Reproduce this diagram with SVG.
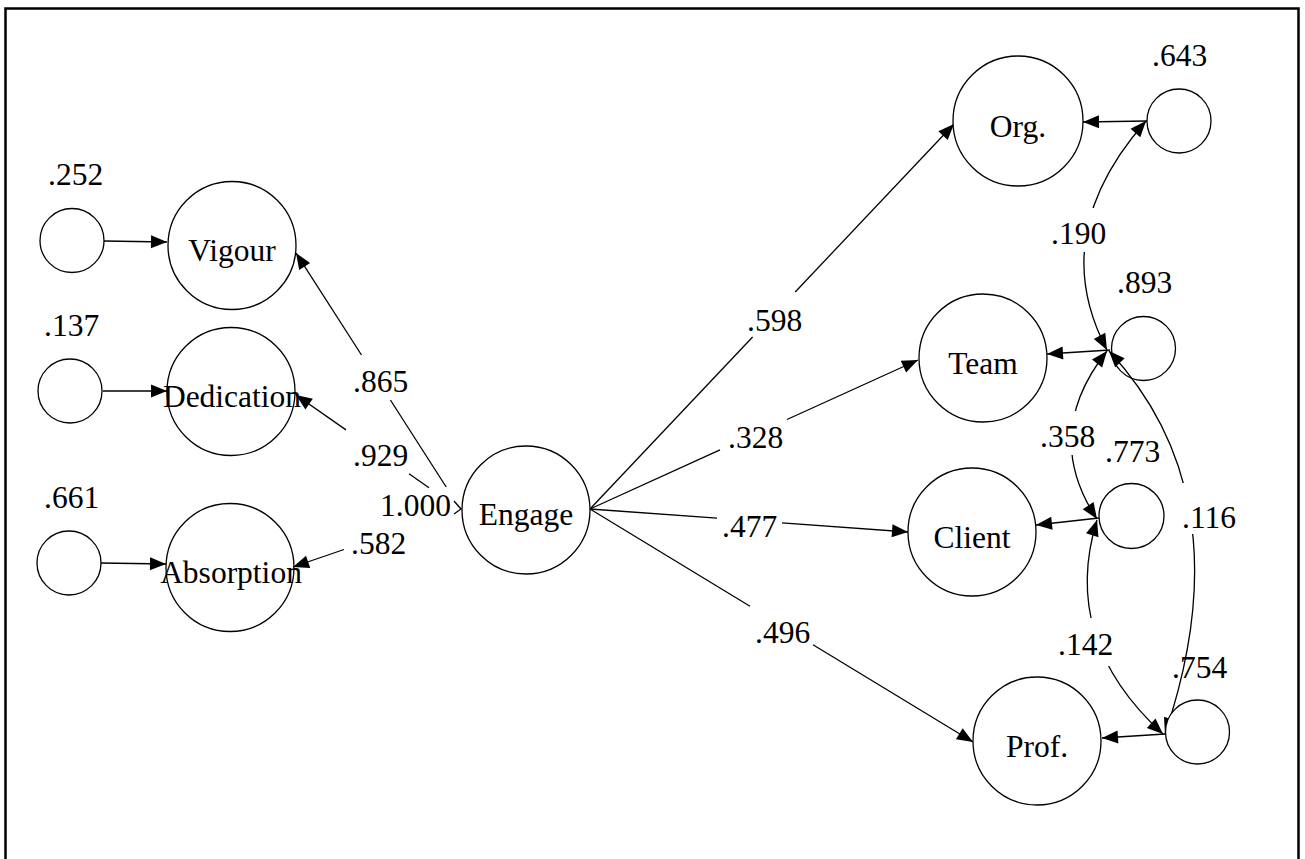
<svg xmlns="http://www.w3.org/2000/svg" width="1305" height="859" viewBox="0 0 1305 859">
<defs>
<marker id="ah" markerUnits="userSpaceOnUse" markerWidth="17" markerHeight="14" refX="16" refY="6.5" orient="auto-start-reverse" overflow="visible">
<path d="M0,0 L16,6.5 L0,13 z" fill="#000"/>
</marker>
<style>
.n{fill:#fff;stroke:#000;stroke-width:1.3}
.t{font-family:"Liberation Serif","Times New Roman",serif;font-size:31.5px;fill:#000}
.m{text-anchor:middle}
.c{fill:none;stroke:#000;stroke-width:1.3}
.a{marker-end:url(#ah)}
.b{marker-start:url(#ah);marker-end:url(#ah)}
.bg{fill:#fff;stroke:none}
</style>
</defs>
<rect width="1305" height="859" fill="#fff"/>
<rect x="5.5" y="8.5" width="1293" height="900" fill="none" stroke="#000" stroke-width="2.5"/>

<g id="connectors">
<path class="c a" d="M104,241 L167,242"/>
<path class="c a" d="M103,391 L167,391"/>
<path class="c a" d="M101,563 L166,564"/>
<path class="c" d="M446.2,487 L390.4,400"/>
<path class="c a" d="M361.5,355 L296,253"/>
<path class="c" d="M429,487.7 L409,473.8"/>
<path class="c a" d="M346,429.9 L296,395"/>
<path class="c a" d="M344,549.5 L293,567"/>
<path class="c" d="M454,501 L461,509 L454,514"/>
<path class="c" d="M590,509 L752.6,337"/>
<path class="c a" d="M795.2,292 L954,124"/>
<path class="c" d="M590,509 L720,449.9"/>
<path class="c a" d="M787,419.5 L918,360"/>
<path class="c" d="M590,509 L717,518.2"/>
<path class="c a" d="M782,522.9 L908,532"/>
<path class="c" d="M590,509 L750,606.3"/>
<path class="c a" d="M813,644.7 L973,742"/>
<path class="c a" d="M1147,121 L1083,122"/>
<path class="c a" d="M1110,350 L1047,354"/>
<path class="c a" d="M1099,518 L1036,525"/>
<path class="c a" d="M1165,734 L1102,738"/>
<path class="c b" d="M1146,121 Q1046,234.5 1107,350"/>
<path class="c b" d="M1107,351 Q1041,434.5 1097,519"/>
<path class="c b" d="M1097,520 Q1060,640 1163,734"/>
<path class="c b" d="M1109,351 Q1245,497.5 1165,734"/>
<rect class="bg" x="1046" y="208" width="62" height="44"/>
<rect class="bg" x="1036" y="411" width="60" height="44"/>
<rect class="bg" x="1054" y="618" width="60" height="48"/>
<rect class="bg" x="1179" y="483" width="60" height="51"/>
</g>

<g id="labels">
<text class="t" x="353" y="392">.865</text>
<text class="t" x="353" y="466">.929</text>
<text class="t" x="380" y="516">1.000</text>
<text class="t" x="351" y="554">.582</text>
<text class="t" x="747" y="331">.598</text>
<text class="t" x="728" y="448">.328</text>
<text class="t" x="722" y="537">.477</text>
<text class="t" x="755" y="643">.496</text>
<text class="t" x="1051" y="244">.190</text>
<text class="t" x="1040" y="447">.358</text>
<text class="t" x="1182" y="528">.116</text>
<text class="t" x="1058" y="655">.142</text>
</g>

<g id="e_vigour"><circle class="n" cx="72" cy="240.5" r="32"/><text class="t" x="48" y="185">.252</text></g>
<g id="e_dedication"><circle class="n" cx="70" cy="391" r="32"/><text class="t" x="44" y="336">.137</text></g>
<g id="e_absorption"><circle class="n" cx="69" cy="563" r="32"/><text class="t" x="44" y="508">.661</text></g>
<g id="vigour"><circle class="n" cx="232" cy="245.5" r="64" fill-opacity="0"/><text class="t m" x="232" y="261">Vigour</text></g>
<g id="dedication"><circle class="n" cx="231" cy="391.5" r="64" fill-opacity="0"/><text class="t m" x="232" y="407">Dedication</text></g>
<g id="absorption"><circle class="n" cx="230" cy="567.5" r="64" fill-opacity="0"/><text class="t m" x="231" y="583">Absorption</text></g>
<g id="engage"><circle class="n" cx="526" cy="510" r="64"/><text class="t m" x="526" y="525">Engage</text></g>
<g id="org"><circle class="n" cx="1018" cy="121" r="65"/><text class="t m" x="1018" y="137">Org.</text></g>
<g id="team"><circle class="n" cx="983" cy="358" r="64"/><text class="t m" x="983" y="374">Team</text></g>
<g id="client"><circle class="n" cx="972" cy="532" r="64"/><text class="t m" x="972" y="548">Client</text></g>
<g id="prof"><circle class="n" cx="1037" cy="741" r="64"/><text class="t m" x="1037" y="757">Prof.</text></g>
<g id="e_org"><circle class="n" cx="1179" cy="121" r="32"/><text class="t" x="1152" y="66">.643</text></g>
<g id="e_team"><circle class="n" cx="1143.5" cy="348.5" r="32" fill-opacity="0"/><text class="t" x="1117" y="293">.893</text></g>
<g id="e_client"><circle class="n" cx="1131.5" cy="516" r="32.5"/><text class="t" x="1105" y="462">.773</text></g>
<g id="e_prof"><circle class="n" cx="1197.5" cy="732" r="32"/><text class="t" x="1172" y="678">.754</text></g>
</svg>
